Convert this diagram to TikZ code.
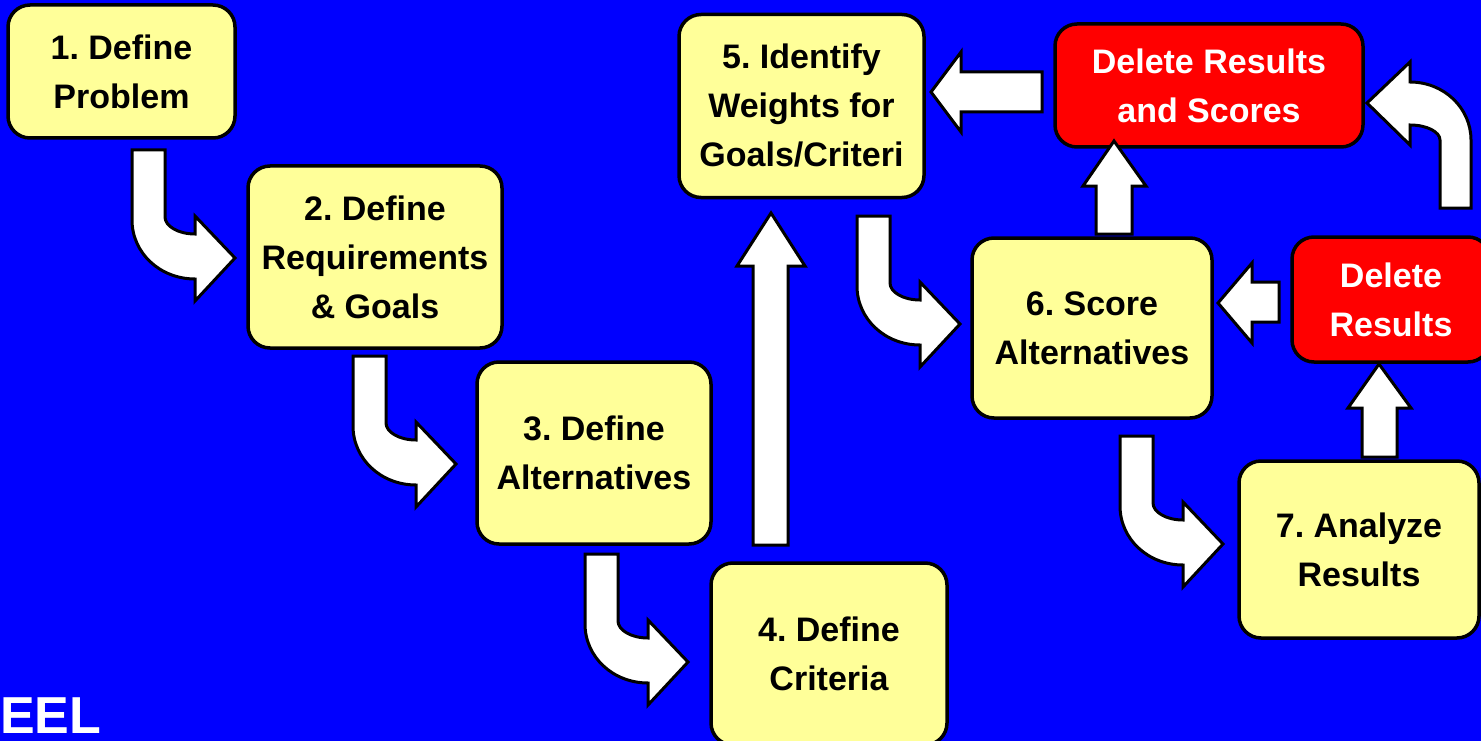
\documentclass[tikz,border=0pt]{standalone}
\usepackage{fontspec}
\setmainfont{Liberation Sans}
\definecolor{bgblue}{RGB}{0,0,255}
\definecolor{boxyellow}{RGB}{255,255,153}
\definecolor{boxred}{RGB}{255,0,0}
\frenchspacing
\begin{document}
\begin{tikzpicture}[x=1pt,y=-1pt,
  ybox/.style={draw=black, line width=3.5pt, fill=boxyellow, rounded corners=22pt,
    inner sep=0pt, align=center, text=black,
    font=\fontsize{34}{49}\selectfont\bfseries\frenchspacing},
  rbox/.style={ybox, fill=boxred, text=white},
  barrow/.style={draw=black, line width=3pt, fill=white, line join=miter},
  curvarrow/.pic={
    \draw[barrow] (0,0) -- (33,0) -- (33,67) .. controls (33,76) and (46,84) .. (63,84)
      -- (63,66) -- (103,108) -- (63,151) -- (63,129)
      .. controls (28,129) and (0,103) .. (0,70) -- cycle;
  }]
\useasboundingbox (0,0) rectangle (1481,741);
\fill[bgblue] (0,0) rectangle (1481,741);
\clip (0,0) rectangle (1481,741);

% boxes
\node[ybox, minimum width=227pt, minimum height=133pt] (b1) at (121.5,71.5) {1. Define\\Problem};
\node[ybox, minimum width=254pt, minimum height=182pt] (b2) at (375,257) {2. Define\\Requirements\\\& Goals};
\node[ybox, minimum width=234pt, minimum height=182pt] (b3) at (594,453) {3. Define\\Alternatives};
\node[ybox, minimum width=236pt, minimum height=182pt] (b4) at (829,654) {4. Define\\Criteria};
\node[ybox, minimum width=245pt, minimum height=183pt] (b5) at (801.5,106) {5. Identify\\Weights for\\Goals/Criteri};
\node[rbox, minimum width=308pt, minimum height=123pt] (r1) at (1209,85.5) {Delete Results\\and Scores};
\node[ybox, minimum width=240pt, minimum height=180pt] (b6) at (1092,328) {6. Score\\Alternatives};
\node[rbox, minimum width=198pt, minimum height=125pt] (r2) at (1391,299.5) {Delete\\Results};
\node[ybox, minimum width=240pt, minimum height=177pt] (b7) at (1359,549.5) {7. Analyze\\Results};

% curved arrows (down then right)
\pic at (132,150) {curvarrow};
\pic at (353,356) {curvarrow};
\pic at (585,554) {curvarrow};
\pic at (857,216) {curvarrow};
\pic at (1120,436) {curvarrow};

% straight up arrow 4 -> 5
\draw[barrow] (753,545) -- (788,545) -- (788,266) -- (805,266) -- (771,213) -- (737,266) -- (753,266) -- cycle;
% up arrow 6 -> delete results and scores
\draw[barrow] (1096,234) -- (1132,234) -- (1132,186) -- (1146,186) -- (1114,141) -- (1083,186) -- (1096,186) -- cycle;
% up arrow 7 -> delete results
\draw[barrow] (1362,457) -- (1397,457) -- (1397,408) -- (1411,408) -- (1379,364) -- (1348,408) -- (1362,408) -- cycle;
% left arrow delete results and scores -> 5
\draw[barrow] (1042,72) -- (1042,112) -- (961,112) -- (961,132) -- (931,92) -- (961,52) -- (961,72) -- cycle;
% left arrow delete results -> 6
\draw[barrow] (1279,282) -- (1279,322) -- (1252,322) -- (1252,343) -- (1218,303) -- (1252,263) -- (1252,282) -- cycle;
% curved up-left arrow at right
\draw[barrow] (1440,208) -- (1471,208) -- (1471,140) .. controls (1471,108) and (1444,82) .. (1410,82)
  -- (1410,62) -- (1367,103) -- (1410,145) -- (1410,125)
  .. controls (1427,125) and (1440,132) .. (1440,140) -- cycle;

% corner text
\node[anchor=base west, inner sep=0pt, text=white, font=\fontsize{52}{52}\selectfont\bfseries] (eel) at (0,733) {EEL};
\end{tikzpicture}
\end{document}
